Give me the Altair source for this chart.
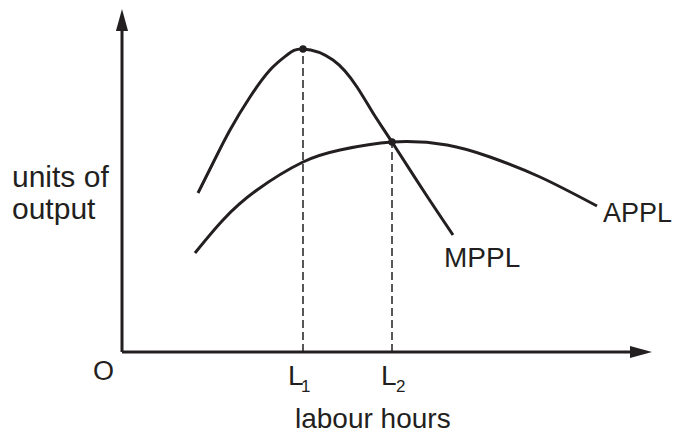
import altair as alt
import pandas as pd

# Curve readings (x = labour hours, y = units of output), origin at O
mppl_x = [76, 91, 108, 128, 148, 165, 181, 211, 235, 251, 270, 301, 331]
mppl_y = [159, 189, 222, 255, 282, 297, 303, 292, 265, 239, 210, 162, 117]
appl_x = [73, 101, 135, 181, 218, 270, 325, 368, 418, 475]
appl_y = [99, 132, 162, 190, 202, 210, 207, 195, 175, 146]

L1 = 181
L2 = 270
peak_mppl = 303
peak_appl = 210

x_axis_end = 530
y_axis_end = 343

label_names = ["units of", "output", "APPL", "MPPL", "O", "labour hours"]
label_x = [-110, -110, 481, 322, -29, 173]
label_y = [165, 133, 130, 85, -28, -76]
label_size = [30, 30, 27, 28, 27, 28]

tick_main = ["L", "L"]
tick_sub = ["1", "2"]
tick_x = [166, 259]
tick_sub_x = [179, 274]

INK = "#231f20"
FONT = "Liberation Sans"

xs = alt.Scale(domain=[-114, 551])
ys = alt.Scale(domain=[-77, 344])

mppl = pd.DataFrame({"x": mppl_x, "y": mppl_y})
appl = pd.DataFrame({"x": appl_x, "y": appl_y})

curve_mppl = alt.Chart(mppl).mark_line(color=INK, strokeWidth=3, interpolate="natural").encode(
    x=alt.X("x:Q", scale=xs, axis=None), y=alt.Y("y:Q", scale=ys, axis=None))
curve_appl = alt.Chart(appl).mark_line(color=INK, strokeWidth=3, interpolate="natural").encode(
    x=alt.X("x:Q", scale=xs, axis=None), y=alt.Y("y:Q", scale=ys, axis=None))

axes_df = pd.DataFrame({"x": [0, 0], "y": [0, 0], "x2": [0, x_axis_end - 12], "y2": [y_axis_end - 12, 0]})
axes = alt.Chart(axes_df).mark_rule(color=INK, strokeWidth=3).encode(
    x=alt.X("x:Q", scale=xs, axis=None), y=alt.Y("y:Q", scale=ys, axis=None), x2="x2:Q", y2="y2:Q")

arrow_r = alt.Chart(pd.DataFrame({"x": [x_axis_end], "y": [0]})).mark_point(
    shape="M0,0L-2,-0.55L-2,0.55Z", size=484, filled=True, color=INK, opacity=1, strokeWidth=0).encode(
    x=alt.X("x:Q", scale=xs, axis=None), y=alt.Y("y:Q", scale=ys, axis=None))
arrow_u = alt.Chart(pd.DataFrame({"x": [0], "y": [y_axis_end]})).mark_point(
    shape="M0,0L-0.55,2L0.55,2Z", size=484, filled=True, color=INK, opacity=1, strokeWidth=0).encode(
    x=alt.X("x:Q", scale=xs, axis=None), y=alt.Y("y:Q", scale=ys, axis=None))

dash_df = pd.DataFrame({"x": [L1, L2], "y": [0, 0], "y2": [peak_mppl, peak_appl]})
dashes = alt.Chart(dash_df).mark_rule(color=INK, strokeWidth=1.5, strokeDash=[8, 4]).encode(
    x=alt.X("x:Q", scale=xs, axis=None), y=alt.Y("y:Q", scale=ys, axis=None), y2="y2:Q")

dots = alt.Chart(pd.DataFrame({"x": [L1, L2], "y": [peak_mppl, peak_appl]})).mark_circle(
    size=55, color=INK, opacity=1).encode(
    x=alt.X("x:Q", scale=xs, axis=None), y=alt.Y("y:Q", scale=ys, axis=None))

lab_df = pd.DataFrame({"t": label_names, "x": label_x, "y": label_y, "s": label_size})
labels = alt.Chart(lab_df).mark_text(font=FONT, color=INK, align="left", baseline="alphabetic").encode(
    x=alt.X("x:Q", scale=xs, axis=None), y=alt.Y("y:Q", scale=ys, axis=None),
    text="t:N", size=alt.Size("s:Q", scale=None, legend=None))

ticks_main = alt.Chart(pd.DataFrame({"t": tick_main, "x": tick_x, "y": [-33, -33]})).mark_text(
    font=FONT, color=INK, align="left", baseline="alphabetic", fontSize=28).encode(
    x=alt.X("x:Q", scale=xs, axis=None), y=alt.Y("y:Q", scale=ys, axis=None), text="t:N")
ticks_sub = alt.Chart(pd.DataFrame({"t": tick_sub, "x": tick_sub_x, "y": [-40, -40]})).mark_text(
    font=FONT, color=INK, align="left", baseline="alphabetic", fontSize=17).encode(
    x=alt.X("x:Q", scale=xs, axis=None), y=alt.Y("y:Q", scale=ys, axis=None), text="t:N")

chart = alt.layer(axes, dashes, curve_appl, curve_mppl, arrow_r, arrow_u, dots, labels, ticks_main, ticks_sub).properties(
    width=665, height=421, padding=0,
    autosize=alt.AutoSizeParams(type="none")
).configure_view(stroke=None)

chart.save("out.html", embed_options={"renderer": "svg", "actions": False})
